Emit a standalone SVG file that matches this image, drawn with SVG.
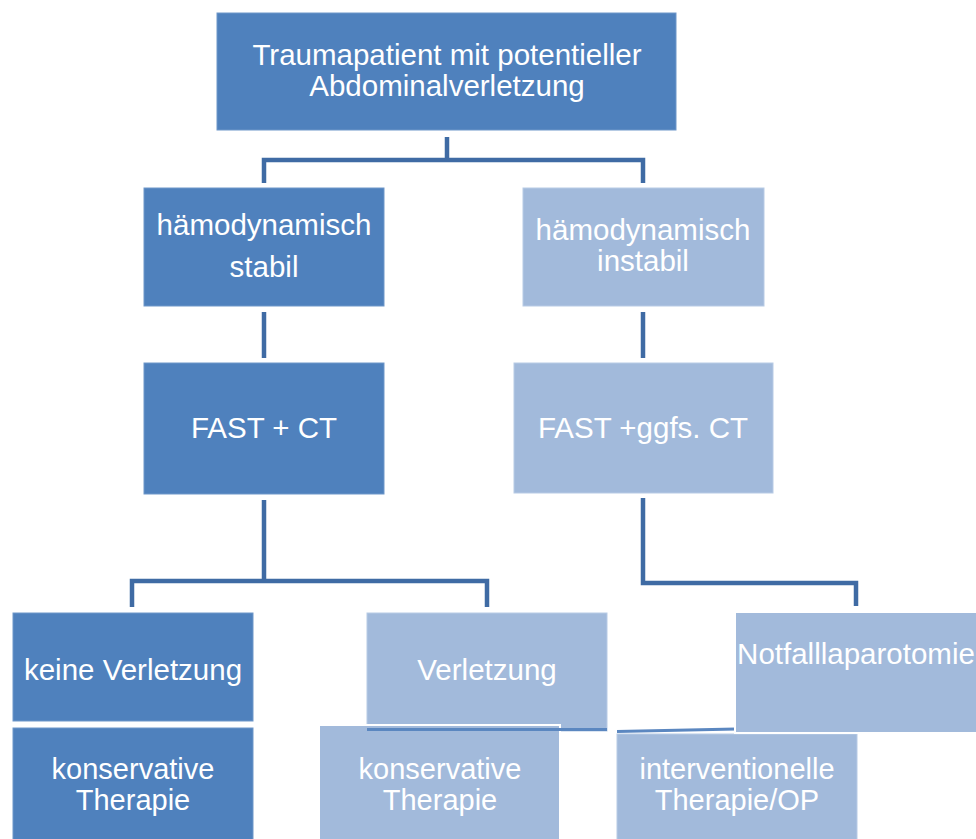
<svg xmlns="http://www.w3.org/2000/svg" width="976" height="839" viewBox="0 0 976 839">
<style>
.dk{fill:#4F81BD;stroke:#6F97C9;stroke-width:1}
.lt{fill:#A2BADB;stroke:#B8CBE5;stroke-width:1}
.wb{stroke:#FFFFFF;stroke-width:2}
.c{fill:none;stroke:#3F6BA4;stroke-width:4.5;stroke-linejoin:miter}
text{font-family:"Liberation Sans",Arial,sans-serif;font-size:29.5px;fill:#FFFFFF;text-anchor:middle}
.s{font-size:29px}
</style>
<rect width="976" height="839" fill="#FFFFFF"/>
<g id="connectors">
<path class="c" d="M447,137 V160 M264,183 V160 H643 V183"/>
<path class="c" d="M264,312 V358"/>
<path class="c" d="M643,312 V358"/>
<path class="c" d="M264,500 V581 M132,607 V581 H487 V607"/>
<path class="c" d="M643,498 V583 H856 V606"/>
</g>
<g id="n_top"><rect class="dk" x="217" y="13" width="459" height="117"/><text x="447" y="65">Traumapatient mit potentieller</text><text x="447" y="96">Abdominalverletzung</text></g>
<g id="n_stabil"><rect class="dk" x="144" y="188" width="240" height="118"/><text x="264" y="235">hämodynamisch</text><text x="264" y="277">stabil</text></g>
<g id="n_instabil"><rect class="lt" x="523" y="188" width="241" height="118"/><text x="643" y="240">hämodynamisch</text><text x="643" y="271">instabil</text></g>
<g id="n_fastct"><rect class="dk" x="144" y="363" width="240" height="131"/><text x="264" y="438">FAST + CT</text></g>
<g id="n_fastggfs"><rect class="lt" x="514" y="363" width="259" height="130"/><text x="643" y="438">FAST +ggfs. CT</text></g>
<g id="n_keine"><rect class="dk" x="13" y="613" width="240" height="108"/><text x="133" y="680">keine Verletzung</text></g>
<g id="n_kons1"><rect class="dk" x="13" y="728" width="240" height="112"/><text class="s" x="133" y="779">konservative</text><text class="s" x="133" y="810">Therapie</text></g>
<g id="n_verl"><rect class="lt" x="367" y="613" width="240" height="118"/><text x="487" y="680">Verletzung</text></g>
<g id="n_kons2"><rect class="lt wb" x="319" y="725" width="241" height="116"/><text class="s" x="440" y="779">konservative</text><text class="s" x="440" y="810">Therapie</text></g>
<g id="overlap_lines"><path d="M367,729.5 L607,729.5 M617,731.5 L736,729" fill="none" stroke="#5B87C0" stroke-width="3"/></g>
<g id="n_interv"><rect class="lt" x="617" y="734" width="240" height="106"/><text class="s" x="737" y="779">interventionelle</text><text class="s" x="737" y="810">Therapie/OP</text></g>
<g id="n_notfall"><rect class="lt wb" x="735" y="612" width="243" height="121"/><text x="856" y="664">Notfalllaparotomie</text></g>
</svg>
